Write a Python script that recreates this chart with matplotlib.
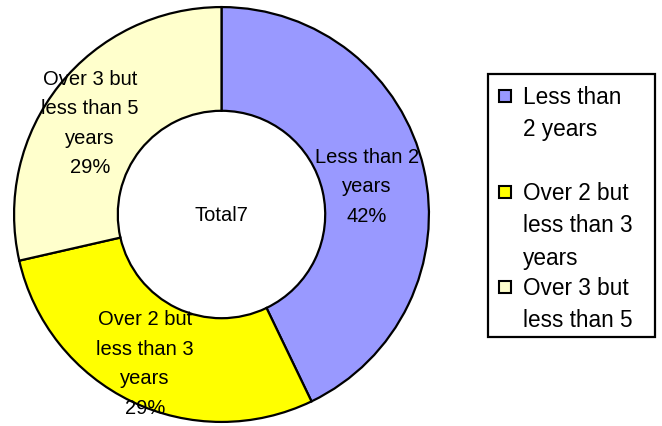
import matplotlib
matplotlib.use("Agg")
import matplotlib.pyplot as plt
from matplotlib.patches import Rectangle

plt.rcParams['font.family'] = ['Liberation Sans', 'DejaVu Sans']

# data
categories = ["Less than 2 years", "Over 2 but less than 3 years", "Over 3 but less than 5 years"]
counts = [3, 2, 2]
pct_labels = ["42%", "29%", "29%"]
slice_labels = ["Less than 2\nyears", "Over 2 but\nless than 3\nyears", "Over 3 but\nless than 5\nyears"]
legend_labels = ["Less than\n2 years", "Over 2 but\nless than 3\nyears", "Over 3 but\nless than 5"]
colors = ["#9999FF", "#FFFF00", "#FFFFCC"]
total_label = "Total" + str(sum(counts))

W, H = 662, 427
fig = plt.figure(figsize=(W / 100, H / 100), dpi=100)

# donut axes, square in pixels
ax = fig.add_axes([12 / W, 2 / H, 419 / W, 419 / H])
labels = [f"{s}\n{p}" for s, p in zip(slice_labels, pct_labels)]
wedges, texts = ax.pie(counts, labels=labels, colors=colors, startangle=90,
                       counterclock=False, radius=1.0, labeldistance=0.76,
                       wedgeprops=dict(width=0.5, edgecolor="black", linewidth=1.6),
                       textprops=dict(fontsize=14.5, color="black"))
for t in texts:
    t.set_horizontalalignment("center")
    t.set_linespacing(1.7)
    x, y = t.get_position()
    t.set_position((x - 0.04, y - 0.03))
ax.text(0, 0, total_label, ha="center", va="center", fontsize=14.5)
ax.set_xlim(-1.01, 1.01)
ax.set_ylim(-1.01, 1.01)
ax.set_aspect("equal")
ax.axis("off")

# legend box drawn by hand so markers sit at the first line
def px(x, y):
    return x / W, 1 - y / H

x0, y0 = px(488, 338)
fig.patches.append(Rectangle((x0, y0), (655 - 488) / W, (338 - 75) / H,
                             transform=fig.transFigure, facecolor="white",
                             edgecolor="black", linewidth=1.6))
tops = [86, 182, 277]
for lab, col, top in zip(legend_labels, colors, tops):
    sx, sy = px(499, top + 17)
    fig.patches.append(Rectangle((sx, sy), 12 / W, 12 / H, transform=fig.transFigure,
                                 facecolor=col, edgecolor="black", linewidth=1.5))
    tx, ty = px(523, top)
    fig.text(tx, ty, lab, ha="left", va="top", fontsize=16.3, linespacing=1.52)

fig.savefig("out.png", dpi=100)
